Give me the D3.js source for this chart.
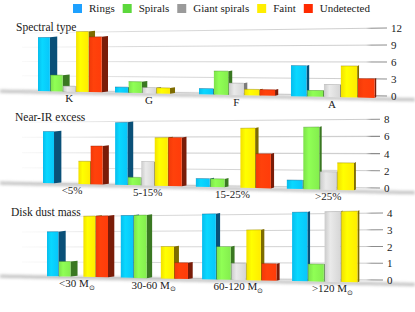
<!DOCTYPE html>
<html><head><meta charset="utf-8">
<script src="https://cdn.jsdelivr.net/npm/d3@7"></script>
<style>
body{margin:0;background:#fff}
svg{display:block}
</style>
</head><body><svg id="c" width="415" height="312"></svg>
<script>
// ---------- data ----------
const series = ["Rings","Spirals","Giant spirals","Faint","Undetected"];
const legendColors = ["#1ea1ff","#5cd83c","#9a9a9a","#ffee00","#ff2a00"];
const frontColors = ["#08c6fa","#84ee4e","#d6d6d6","#ffec00","#ff3c0a"];
const sideColors  = ["#0a5078","#3a7822","#7c7c7c","#7e6c00","#7a1c08"];

const spectralTypes = ["K","G","F","A"];
const spectralRings = [10,1,1,5];
const spectralSpirals = [3,2,4,1];
const spectralGiant = [1,1,2,2];
const spectralFaint = [11,1,1,5];
const spectralUndetected = [10,0,1,3];
const spectralTicks = [0,3,6,9,12];

const nirBins = ["<5%","5-15%","15-25%",">25%"];
const nirRings = [7,8,1,1];
const nirSpirals = [0,1,1,7];
const nirGiant = [0,3,0,2];
const nirFaint = [3,6,7,3];
const nirUndetected = [5,6,4,0];
const nirTicks = [0,2,4,6,8];

const dustBins = ["<30","30-60","60-120",">120"];
const dustRings = [3,4,4,4];
const dustSpirals = [1,4,2,1];
const dustGiant = [0,0,1,4];
const dustFaint = [4,2,3,4];
const dustUndetected = [4,1,1,0];
const dustTicks = [0,1,2,3,4];

const FONT = '"Liberation Serif"';

// ---------- layout (per panel perspective params) ----------
const panels = [
  {title:"Spectral type", tx:16, ty:31, cats:spectralTypes, sub:false,
   vals:[spectralRings,spectralSpirals,spectralGiant,spectralFaint,spectralUndetected],
   ticks:spectralTicks, A:12.035, B:38, C:-0.00694, k:5.35,
   baseY:91, baseSlope:0.0206, yR0:96, sR:5.67, yL0:90, sL:4.75, labelX:391},
  {title:"Near-IR excess", tx:15, ty:121, cats:nirBins, sub:false,
   vals:[nirRings,nirSpirals,nirGiant,nirFaint,nirUndetected],
   ticks:nirTicks, A:11.0, B:43, C:-0.00888, k:7.35,
   baseY:183, baseSlope:0.0233, yR0:188, sR:8.6, yL0:183, sL:7.6, labelX:384},
  {title:"Disk dust mass", tx:11, ty:216, cats:dustBins, sub:true,
   vals:[dustRings,dustSpirals,dustGiant,dustFaint,dustUndetected],
   ticks:dustTicks, A:11.37, B:47, C:-0.00769, k:14.8,
   baseY:276, baseSlope:0.02, yR0:280, sR:16.75, yL0:277, sL:15, labelX:387}
];

const svg = d3.select("#c");
const defs = svg.append("defs");
defs.append("filter").attr("id","blur").attr("x","-10%").attr("y","-200%").attr("width","120%").attr("height","500%")
  .append("feGaussianBlur").attr("stdDeviation",1.6);
const gg = defs.append("linearGradient").attr("id","grid").attr("gradientUnits","userSpaceOnUse")
  .attr("x1",20).attr("x2",392).attr("y1",0).attr("y2",0);
[[0,"#e4e4e4",0.2],[0.3,"#d6d6d6",0.9],[0.93,"#cdcdcd",1],[0.945,"#8c8c8c",1],[1,"#8c8c8c",1]]
  .forEach(s=>gg.append("stop").attr("offset",s[0]).attr("stop-color",s[1]).attr("stop-opacity",s[2]));
frontColors.forEach((c,i)=>{
  const g = defs.append("linearGradient").attr("id","fg"+i).attr("x1",0).attr("x2",1).attr("y1",0).attr("y2",0);
  const base = d3.color(c);
  g.append("stop").attr("offset",0).attr("stop-color",base.darker(0.15));
  g.append("stop").attr("offset",0.35).attr("stop-color",base.brighter(0.25));
  g.append("stop").attr("offset",1).attr("stop-color",base);
});

function txt(sel){ return sel.style("font-family",FONT).attr("fill","#1a1a1a"); }

// ---------- legend ----------
let lx = 73;
series.forEach((s,i)=>{
  svg.append("rect").attr("x",lx).attr("y",4).attr("width",9).attr("height",9).attr("fill",legendColors[i]);
  const t = txt(svg.append("text")).attr("x",lx+16).attr("y",12).attr("font-size",11).text(s);
  lx += 16 + t.node().getComputedTextLength() + 8;
});

// ---------- panels ----------
panels.forEach(p=>{
  const g = svg.append("g");
  const P = u => (p.A*u + p.B)/(p.C*u + 1);
  const f = u => 1/(1 + p.C*u);
  const yb = x => p.baseY + (x - 40)*p.baseSlope;
  const maxV = d3.max(p.ticks);
  const x0 = d3.scaleBand().domain(p.cats).range([0,23]).paddingInner(1/6).paddingOuter(0);
  const x1 = d3.scaleBand().domain(series).range([0,x0.bandwidth()]).paddingInner(0.05);
  const yv = d3.scaleLinear().domain([0,maxV]).range([0,maxV*p.k]);
  const yAxis = d3.scaleLinear().domain([0,maxV]).range([p.yR0, p.yR0 - maxV*p.sR]);

  // gridlines (back wall)
  p.ticks.forEach(v=>{
    g.append("line").attr("x1",22).attr("x2",p.labelX-4)
      .attr("y1",p.yL0 - v*p.sL).attr("y2",yAxis(v))
      .attr("stroke","url(#grid)").attr("stroke-width",1.1);
  });
  // floor shadow
  const sh = d3.line()(d3.range(0,416,5).map(x=>[x, yb(x)+1]));
  g.append("path").attr("d",sh).attr("fill","none").attr("stroke","#8a8a8a")
    .attr("stroke-width",3).attr("opacity",0.55).attr("filter","url(#blur)");

  // axis labels
  const ax = g.append("g").attr("transform",`translate(${p.labelX},0)`)
    .call(d3.axisRight(yAxis).tickValues(p.ticks).tickSize(0).tickPadding(0).tickFormat(d3.format("d")));
  ax.select(".domain").remove();
  ax.attr("font-family",null).attr("font-size",null);
  txt(ax.selectAll("text")).attr("font-size",11);

  // bars
  p.cats.forEach((c,ci)=>{
    series.forEach((s,si)=>{
      const v = p.vals[si][ci];
      if(!v) return;
      const u0 = x0(c) + x1(s), u1 = u0 + x1.bandwidth();
      const xl = P(u0), xr = P(u1);
      const hl = yv(v)*f(u0), hr = yv(v)*f(u1);
      const bl = yb(xl), br = yb(xr);
      const sw = Math.max(1.5, 7.6 - 0.26*u1);
      g.append("path").attr("fill",sideColors[si])
        .attr("d",`M${xr},${br-hr}L${xr+sw},${br-hr-0.8}L${xr+sw},${br-0.8}L${xr},${br}Z`);
      g.append("path").attr("fill",`url(#fg${si})`)
        .attr("d",`M${xl},${bl-hl}L${xr},${br-hr}L${xr},${br}L${xl},${bl}Z`);
      g.append("line").attr("x1",xl).attr("x2",xr).attr("y1",bl-hl).attr("y2",br-hr)
        .attr("stroke",d3.color(sideColors[si]).brighter(0.4)).attr("stroke-width",0.6).attr("opacity",0.7);
    });
    // category label
    const xc = P(x0(c) + x0.bandwidth()/2);
    const t = txt(g.append("text")).attr("x",xc).attr("y",yb(xc)+10.5).attr("text-anchor","middle")
      .attr("font-size",11);
    if(p.sub){
      t.append("tspan").text(c + " M");
      t.append("tspan").attr("font-size",6.5).attr("dy",2.5).text("\u2299");
    } else t.text(c);
  });

  // title
  txt(g.append("text")).attr("x",p.tx).attr("y",p.ty).attr("font-size",11.5).text(p.title);
});
</script>
</body></html>
